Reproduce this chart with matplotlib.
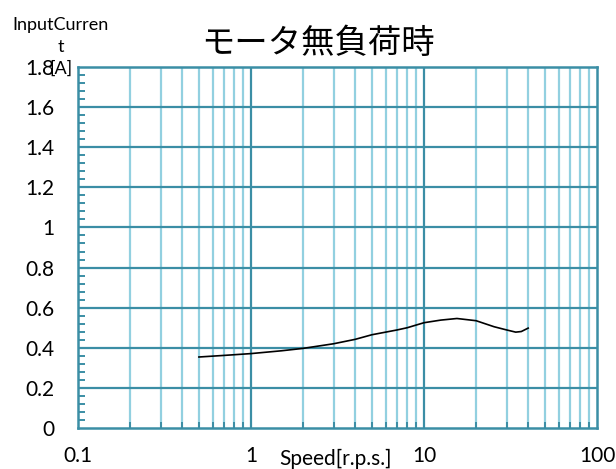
import numpy as np
import matplotlib
matplotlib.use('Agg')
import matplotlib.pyplot as plt
from matplotlib.ticker import FixedLocator, NullFormatter, MultipleLocator

# values
speed = [0.5, 0.7, 1, 1.5, 2, 3, 4, 5, 6, 7, 8, 10, 12.5, 15.5, 20, 25.4, 30, 33.9, 36.5, 40]
current = [0.354, 0.362, 0.371, 0.385, 0.397, 0.42, 0.442, 0.465, 0.478, 0.489, 0.50, 0.525, 0.538, 0.546, 0.535, 0.505, 0.489, 0.478, 0.481, 0.498]

x_ticks = [0.1, 1, 10, 100]
x_labels = ['0.1', '1', '10', '100']
y_ticks = [0, 0.2, 0.4, 0.6, 0.8, 1, 1.2, 1.4, 1.6, 1.8]
y_labels = ['0', '0.2', '0.4', '0.6', '0.8', '1', '1.2', '1.4', '1.6', '1.8']

plt.rcParams['font.family'] = ['Lato', 'Noto Sans CJK JP', 'DejaVu Sans']

major_c = '#3b8ea5'
minor_c = '#92d0e0'

fig = plt.figure(figsize=(6.16, 4.69), dpi=100)
ax = fig.add_axes([78/616, 41/469, 519/616, 361/469])

ax.set_xscale('log')
ax.set_xlim(0.1, 100)
ax.set_ylim(0, 1.8)

# vertical grid
minors = [m * 10.0**e for e in (-1, 0, 1) for m in range(2, 10)]
for v in minors:
    ax.axvline(v, color=minor_c, lw=1.6, zorder=1)
for v in x_ticks[1:-1]:
    ax.axvline(v, color=major_c, lw=1.6, zorder=2)
for v in y_ticks[1:-1]:
    ax.axhline(v, color=major_c, lw=1.6, zorder=2)

ax.plot(speed, current, color='black', lw=1.2, zorder=3)

ax.xaxis.set_major_locator(FixedLocator(x_ticks))
ax.set_xticklabels(x_labels)
ax.xaxis.set_minor_locator(FixedLocator(minors))
ax.xaxis.set_minor_formatter(NullFormatter())
ax.set_yticks(y_ticks)
ax.set_yticklabels(y_labels)
ax.yaxis.set_minor_locator(MultipleLocator(0.04))

ax.tick_params(axis='both', which='both', direction='in', color=major_c, width=1.4, labelsize=15)
ax.tick_params(axis='both', which='major', length=0)
ax.tick_params(axis='y', which='minor', length=5)
ax.tick_params(axis='x', which='minor', length=4)
ax.tick_params(axis='x', which='major', pad=13)
ax.tick_params(axis='y', which='major', pad=17)
ax.tick_params(right=False, top=False)

for s in ax.spines.values():
    s.set_color(major_c)
    s.set_linewidth(1.8)

fig.text(318/616, 1 - 44/469, 'モータ無負荷時', ha='center', va='center', fontsize=24,
         family=['Noto Sans CJK JP', 'DejaVu Sans'])
fig.text(61/616, 1 - 47/469, 'InputCurren\nt\n[A]', ha='center', va='center', fontsize=13,
         linespacing=1.45)
fig.text(336/616, 1 - 459/469, 'Speed[r.p.s.]', ha='center', va='center', fontsize=15)

fig.savefig('out.png', dpi=100)
